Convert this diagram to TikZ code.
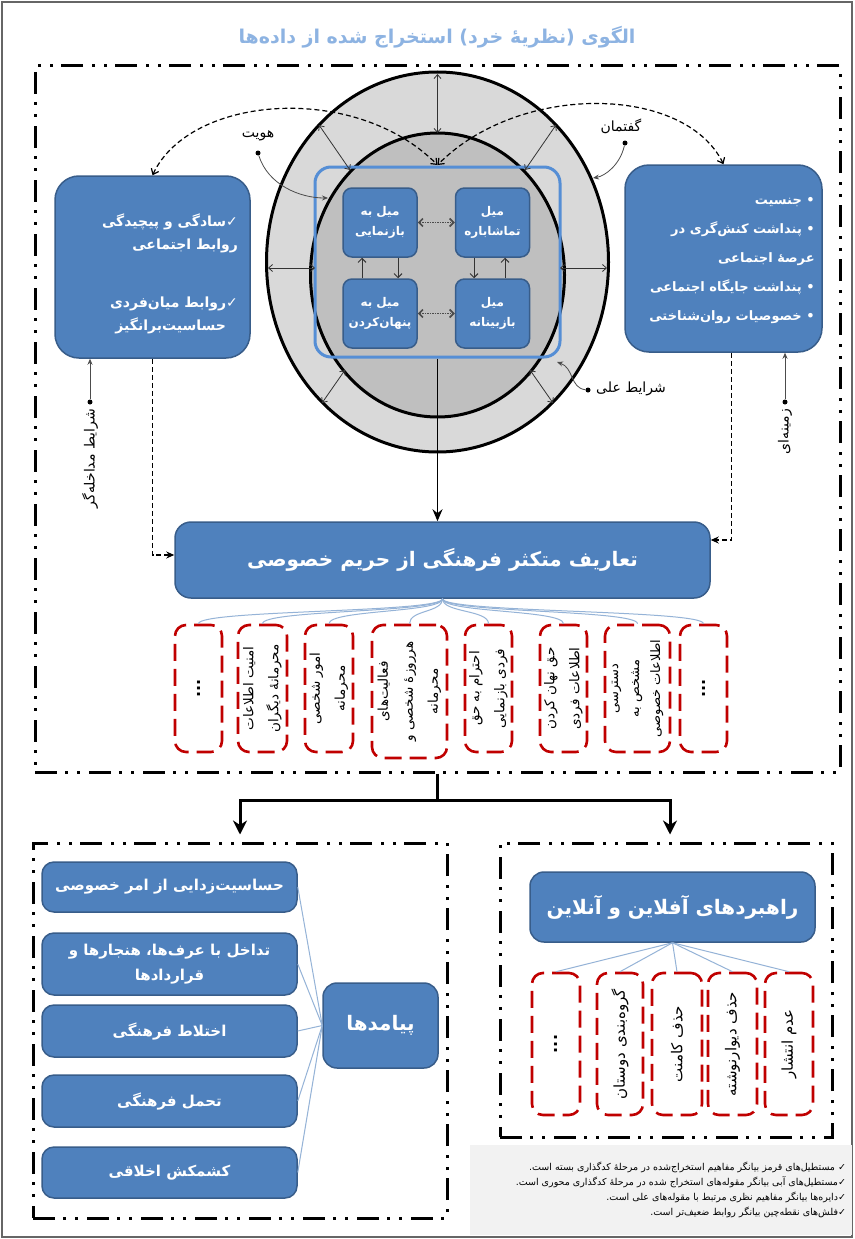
\documentclass[tikz,border=0pt]{standalone}
\usepackage{fontspec}
\usetikzlibrary{arrows.meta,calc}
\newfontfamily\arabicfont[Script=Arabic]{DejaVu Sans}
\TeXXeTstate=1
\newcommand{\fa}[1]{\beginR #1\endR}
\newcommand{\fsz}[2]{\fontsize{#1}{#2}\selectfont}
\definecolor{boxblue}{HTML}{4F81BD}
\definecolor{boxedge}{HTML}{385D8A}
\definecolor{redc}{HTML}{C00000}
\definecolor{linkblue}{HTML}{95B3D7}
\definecolor{titleblue}{HTML}{8DB3E2}
\definecolor{outergray}{HTML}{D9D9D9}
\definecolor{innergray}{HTML}{BFBFBF}
\definecolor{rectblue}{HTML}{558ED5}
\definecolor{legendbg}{HTML}{F2F2F2}
\tikzset{
  bluebox/.style={draw=boxedge, line width=1.5pt, fill=boxblue, rounded corners=12pt, text=white, font=\arabicfont\bfseries, inner sep=3pt, align=center},
  smallbox/.style={bluebox, rounded corners=9pt, minimum width=74pt, minimum height=69pt, font=\arabicfont\bfseries\fsz{12}{20}},
  redbox/.style={draw=redc, line width=2.6pt, dash pattern=on 17pt off 8pt, rounded corners=11pt},
  redtext/.style={rotate=90, font=\arabicfont\fsz{13.5}{25}, align=center, text=black},
  dots/.style={rotate=90, font=\arabicfont\bfseries\fsz{16}{18}, text=black},
  frame/.style={draw=black, line width=3pt, dash pattern=on 22pt off 8pt on 3pt off 9pt on 3pt off 9pt},
  link/.style={draw=linkblue, line width=1pt},
  radial/.style={draw=black!80, line width=0.8pt, {Straight Barb[length=4pt,width=7pt]}-{Straight Barb[length=4pt,width=7pt]}},
  weak/.style={draw=black, line width=1.2pt, dash pattern=on 5pt off 3pt},
  dotarrow/.style={draw=black!70, line width=1.6pt, dash pattern=on 1.5pt off 1pt, {Straight Barb[length=4pt,width=8pt]}-{Straight Barb[length=4pt,width=8pt]}},
  varrow/.style={draw=black!80, line width=1pt, -{Straight Barb[length=4pt,width=8pt]}},
  pinline/.style={draw=black!70, line width=0.8pt, -{Stealth[length=6pt,width=5pt]}},
  pindot/.style={circle, fill=black, inner sep=0pt, minimum size=5pt},
  pintext/.style={font=\arabicfont\fsz{14}{16}, text=black, inner sep=1pt},
  bigarrow/.style={draw=black, line width=3pt, -{Stealth[length=14pt,width=14pt]}},
  boxtext/.style={text=white, font=\arabicfont\bfseries, align=right, inner sep=0pt}
}
\begin{document}
\begin{tikzpicture}[x=1pt,y=-1pt]
\useasboundingbox (0,0) rectangle (854,1239);
\fill[white] (0,0) rectangle (854,1239);
\draw[black!60, line width=1.2pt] (2,2) rectangle (852,1237);

% title
\node[font=\arabicfont\bfseries\fsz{19}{22}, text=titleblue] (title) at (437,37) {\fa{الگوی (نظریهٔ خرد) استخراج شده از داده‌ها}};

% frames
\node[frame, minimum width=805pt, minimum height=706pt] (topframe) at (437.5,419) {};
\node[frame, minimum width=414pt, minimum height=375pt] (llframe) at (240,1030.5) {};
\node[frame, minimum width=332pt, minimum height=294pt] (lrframe) at (666,990) {};

% circles
\draw[fill=outergray, line width=3pt] (437.5,262) ellipse [x radius=171pt, y radius=190pt];
\draw[fill=innergray, line width=3pt] (437.5,275) ellipse [x radius=127pt, y radius=142pt];
\node[draw=rectblue, line width=3pt, rounded corners=16pt, minimum width=245pt, minimum height=190pt] (focus) at (437.5,262) {};

% radial arrows
\coordinate (oT) at (437.5,74);  \coordinate (iT) at (437.5,133);
\coordinate (oTL) at (319,125);  \coordinate (fTL) at (350,170);
\coordinate (oTR) at (556,125);  \coordinate (fTR) at (525,170);
\coordinate (oL) at (268,268);   \coordinate (fL) at (315,268);
\coordinate (oR) at (607,268);   \coordinate (fR) at (560,268);
\coordinate (iBL) at (345,370);  \coordinate (oBL) at (322,403);
\coordinate (iBR) at (530,370);  \coordinate (oBR) at (553,403);
\draw[radial] (oT) -- (iT);
\draw[radial] (oTL) -- (fTL);
\draw[radial] (oTR) -- (fTR);
\draw[radial] (oL) -- (fL);
\draw[radial] (oR) -- (fR);
\draw[radial] (iBL) -- (oBL);
\draw[radial] (iBR) -- (oBR);

% four inner boxes
\node[smallbox] (tl) at (380,222.5) {\fa{میل به}\\\fa{بازنمایی}};
\node[smallbox] (tr) at (492.5,222.5) {\fa{میل}\\\fa{تماشاباره}};
\node[smallbox] (bl) at (380,313.5) {\fa{میل به}\\\fa{پنهان‌کردن}};
\node[smallbox] (br) at (492.5,313.5) {\fa{میل}\\\fa{بازبینانه}};
\draw[dotarrow] (tl.east) -- (tr.west);
\draw[dotarrow] (bl.east) -- (br.west);
\draw[varrow] ($(bl.north)+(-18,0)$) -- ($(tl.south)+(-18,0)$);
\draw[varrow] ($(tl.south)+(18,0)$) -- ($(bl.north)+(18,0)$);
\draw[varrow] ($(tr.south)+(-18.5,0)$) -- ($(br.north)+(-18.5,0)$);
\draw[varrow] ($(br.north)+(12.5,0)$) -- ($(tr.south)+(12.5,0)$);

% side boxes
\node[bluebox, rounded corners=24pt, minimum width=195pt, minimum height=182pt] (leftbox) at (152.5,267) {};
\node[boxtext, font=\arabicfont\bfseries\fsz{14}{23}] (lefttext) at (170,274)
 {\fa{✓سادگی و پیچیدگی}\\\fa{روابط اجتماعی}\hspace*{12pt}\\[35pt]\fa{✓روابط میان‌فردی}\\\fa{حساسیت‌برانگیز}\hspace*{12pt}};
\node[bluebox, rounded corners=24pt, minimum width=197pt, minimum height=187pt] (rightbox) at (723.5,258.5) {};
\node[boxtext, font=\arabicfont\bfseries\fsz{13}{29}] (righttext) at (732,261)
 {\fa{• جنسیت}\\\fa{• پنداشت کنش‌گری در}\\\fa{عرصهٔ اجتماعی}\hspace*{12pt}\\\fa{• پنداشت جایگاه اجتماعی}\\\fa{• خصوصیات روان‌شناختی}};

% weak (dashed) relations to the core
\coordinate (hub) at (437.5,165);
\draw[weak, {Straight Barb[length=5pt,width=8pt]}-{Straight Barb[length=5pt,width=8pt]}] (leftbox.north) .. controls (190,95) and (355,82) .. (hub);
\draw[weak, {Straight Barb[length=5pt,width=8pt]}-{Straight Barb[length=5pt,width=8pt]}] (rightbox.north) .. controls (685,85) and (520,82) .. (hub);

% pin labels
\node[pintext] (hoviat) at (258,136) {\fa{هویت}};
\node[pindot] (hdot) at (258,153) {};
\draw[pinline] (hdot) .. controls (268,185) and (300,198) .. (328,198);
\node[pintext] (gofteman) at (621,126) {\fa{گفتمان}};
\node[pindot] (gdot) at (625,143) {};
\draw[pinline] (gdot) .. controls (620,165) and (605,176) .. (593,178);
\node[pintext, anchor=west] (elli) at (595,389) {\fa{شرایط علی}};
\node[pindot] (edot) at (588,390) {};
\draw[pinline] (edot) .. controls (570,388) and (574,368) .. (557,362);
\node[pindot] (mdot) at (90,402) {};
\node[pintext, rotate=90, anchor=east] (modakhele) at (90,408) {\fa{شرایط مداخله‌گر}};
\draw[pinline] (mdot) -- (mdot |- leftbox.south);
\node[pindot] (zdot) at (785,402) {};
\node[pintext, rotate=90, anchor=east] (zamine) at (785,408) {\fa{زمینه‌ای}};
\draw[pinline] (zdot) -- (zdot |- rightbox.south);

% central bar
\node[bluebox, rounded corners=16pt, minimum width=535pt, minimum height=76pt, font=\arabicfont\bfseries\fsz{20}{24}] (bar) at (442.5,560) {\fa{تعاریف متکثر فرهنگی از حریم خصوصی}};
\draw[draw=black, line width=1.8pt, -{Stealth[length=12pt,width=10pt]}] (focus.south) -- (focus.south |- bar.north);
\draw[weak, -{Stealth[length=8pt,width=7pt]}] (leftbox.south) |- ($(bar.west)+(0,-5)$);
\draw[weak, -{Stealth[length=8pt,width=7pt]}] ($(rightbox.south)+(8,0)$) |- ($(bar.east)+(0,-20)$);

% red concept boxes (top)
\node[redbox, minimum width=47pt, minimum height=127pt] (r1) at (198.5,688.5) {};
\node[redbox, minimum width=49pt, minimum height=127pt] (r2) at (262.5,688.5) {};
\node[redbox, minimum width=48pt, minimum height=127pt] (r3) at (329,688.5) {};
\node[redbox, minimum width=75pt, minimum height=133pt] (r4) at (409.5,691.5) {};
\node[redbox, minimum width=47pt, minimum height=127pt] (r5) at (488.5,688.5) {};
\node[redbox, minimum width=47pt, minimum height=127pt] (r6) at (563.5,688.5) {};
\node[redbox, minimum width=65pt, minimum height=127pt] (r7) at (637.5,688.5) {};
\node[redbox, minimum width=47pt, minimum height=127pt] (r8) at (703.5,688.5) {};
\node[dots] (t1) at (r1) {...};
\node[redtext] (t2) at (r2) {\fa{امنیت اطلاعات}\\\fa{محرمانهٔ دیگران}};
\node[redtext] (t3) at (r3) {\fa{امور شخصی}\\\fa{محرمانه}};
\node[redtext] (t4) at (r4) {\fa{فعالیت‌های}\\\fa{هرروزهٔ شخصی و}\\\fa{محرمانه}};
\node[redtext] (t5) at (r5) {\fa{احترام به حق}\\\fa{فردی بازنمایی}};
\node[redtext] (t6) at (r6) {\fa{حق نهان کردن}\\\fa{اطلاعات فردی}};
\node[redtext, font=\arabicfont\fsz{13}{21}] (t7) at (r7) {\fa{دسترسی}\\\fa{مشخص به}\\\fa{اطلاعات خصوصی}};
\node[dots] (t8) at (r8) {...};
\foreach \r in {r1,r2,r3,r4,r5,r6,r7,r8}
  \draw[link] (bar.south) .. controls +(0,14) and +(0,-14) .. (\r.north);

% split arrows
\coordinate (split) at (437.5,800);
\draw[line width=3pt] (topframe.south) -- (split);
\draw[bigarrow] (split) -| ($(llframe.north)+(0,-7)$);
\draw[bigarrow] (split) -| ($(lrframe.north)+(4,-7)$);

% lower right: strategies
\node[bluebox, rounded corners=14pt, minimum width=285pt, minimum height=70pt, font=\arabicfont\bfseries\fsz{20}{24}] (strat) at (672.5,907) {\fa{راهبردهای آفلاین و آنلاین}};
\node[redbox, minimum width=48pt, minimum height=142pt] (s1) at (556,1044) {};
\node[redbox, minimum width=46pt, minimum height=142pt] (s2) at (620,1044) {};
\node[redbox, minimum width=50pt, minimum height=142pt] (s3) at (677,1044) {};
\node[redbox, minimum width=49pt, minimum height=142pt] (s4) at (732.5,1044) {};
\node[redbox, minimum width=48pt, minimum height=142pt] (s5) at (789,1044) {};
\node[dots] (u1) at (s1) {...};
\node[redtext, font=\arabicfont\fsz{15}{25}] (u2) at (s2) {\fa{گروه‌بندی دوستان}};
\node[redtext, font=\arabicfont\fsz{15}{25}] (u3) at (s3) {\fa{حذف کامنت}};
\node[redtext, font=\arabicfont\fsz{15}{25}] (u4) at (s4) {\fa{حذف دیوارنوشته}};
\node[redtext, font=\arabicfont\fsz{15}{25}] (u5) at (s5) {\fa{عدم انتشار}};
\foreach \s in {s1,s2,s3,s4,s5}
  \draw[link] (strat.south) -- (\s.north);

% lower left: consequences
\node[bluebox, rounded corners=14pt, minimum width=115pt, minimum height=85pt, font=\arabicfont\bfseries\fsz{20}{24}] (payamad) at (380.5,1025.5) {\fa{پیامدها}};
\node[bluebox, minimum width=255pt, minimum height=50pt, font=\arabicfont\bfseries\fsz{15}{25}] (c1) at (169.5,887) {\fa{حساسیت‌زدایی از امر خصوصی}};
\node[bluebox, minimum width=255pt, minimum height=62pt, font=\arabicfont\bfseries\fsz{15}{25}] (c2) at (169.5,964) {\fa{تداخل با عرف‌ها، هنجارها و}\\\fa{قراردادها}};
\node[bluebox, minimum width=255pt, minimum height=52pt, font=\arabicfont\bfseries\fsz{15}{25}] (c3) at (169.5,1031) {\fa{اختلاط فرهنگی}};
\node[bluebox, minimum width=255pt, minimum height=52pt, font=\arabicfont\bfseries\fsz{15}{25}] (c4) at (169.5,1101) {\fa{تحمل فرهنگی}};
\node[bluebox, minimum width=255pt, minimum height=51pt, font=\arabicfont\bfseries\fsz{15}{25}] (c5) at (169.5,1172.5) {\fa{کشمکش اخلاقی}};
\foreach \c in {c1,c2,c3,c4,c5}
  \draw[link] (payamad.west) -- (\c.east);

% legend
\node[fill=legendbg, minimum width=382pt, minimum height=90pt, text width=370pt, align=flush right, font=\arabicfont\fsz{9.5}{15}, inner sep=5pt] (legend) at (661,1190)
 {\fa{✓ مستطیل‌های قرمز بیانگر مفاهیم استخراج‌شده در مرحلهٔ کدگذاری بسته است.}\\
  \fa{✓مستطیل‌های آبی بیانگر مقوله‌های استخراج شده در مرحلهٔ کدگذاری محوری است.}\\
  \fa{✓دایره‌ها بیانگر مفاهیم نظری مرتبط با مقوله‌های علی است.}\\
  \fa{✓فلش‌های نقطه‌چین بیانگر روابط ضعیف‌تر است.}};
\end{tikzpicture}
\end{document}
